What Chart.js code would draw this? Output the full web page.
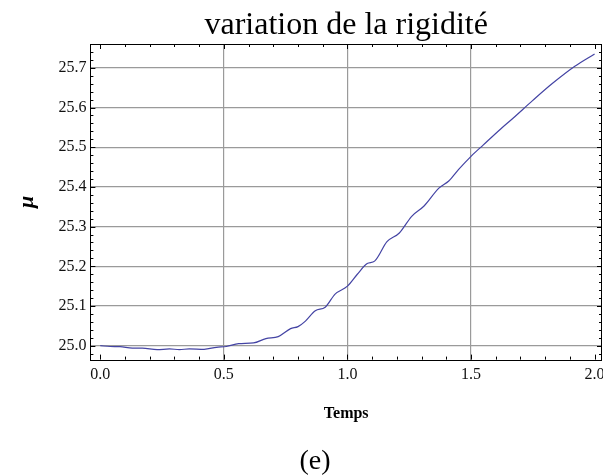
<!DOCTYPE html>
<html>
<head>
<meta charset="utf-8">
<script src="https://cdn.jsdelivr.net/npm/chart.js@4.4.1/dist/chart.umd.min.js"></script>
<style>
  body { margin: 0; background: #fff; }
  #marcoGrafico { width: 603px; height: 475px; overflow: hidden; }
</style>
</head>
<body>
<div id="marcoGrafico">
  <canvas id="grafico" width="615" height="475"></canvas>
</div>
<script>
// valores (temps, mu)
const tiempos = [0.00, 0.04, 0.08, 0.13, 0.17, 0.23, 0.28, 0.32, 0.36, 0.42, 0.47, 0.51, 0.56, 0.62, 0.67, 0.72, 0.77, 0.80, 0.83, 0.87, 0.91, 0.95, 1.00, 1.04, 1.08, 1.11, 1.16, 1.21, 1.26, 1.31, 1.37, 1.41, 1.45, 1.50, 1.55, 1.62, 1.67, 1.75, 1.83, 1.92, 2.00]
const valoresMu = [25.000, 24.998, 24.9975, 24.994, 24.994, 24.990, 24.992, 24.990, 24.992, 24.991, 24.996, 24.998, 25.005, 25.007, 25.018, 25.023, 25.043, 25.048, 25.062, 25.088, 25.097, 25.130, 25.150, 25.180, 25.207, 25.213, 25.262, 25.284, 25.326, 25.352, 25.397, 25.415, 25.444, 25.477, 25.506, 25.546, 25.573, 25.618, 25.661, 25.704, 25.735]
const etiquetasX = [0, 0.5, 1, 1.5, 2]
const etiquetasY = [25.0, 25.1, 25.2, 25.3, 25.4, 25.5, 25.6, 25.7]
const titulo = 'variation de la rigidité'
const sousTitre = '(e)'

const fuente = 'Liberation Serif, Times New Roman, serif'

const puntos = tiempos.map((t, i) => ({x: t, y: valoresMu[i]}))

// marco negro con marcas hacia adentro en los cuatro lados + textos
const marco = {
  id: 'marco',
  afterDraw(chart) {
    const {ctx, chartArea} = chart
    const {left, right, top, bottom} = chartArea
    const x = chart.scales.x
    const y = chart.scales.y
    ctx.save()
    ctx.strokeStyle = '#000'
    ctx.lineWidth = 1
    ctx.strokeRect(Math.round(left) + 0.5, Math.round(top) + 0.5, Math.round(right - left) - 1, Math.round(bottom - top))
    ctx.beginPath()
    for (let k = 0; k <= 20; k++) {
      const px = Math.round(x.getPixelForValue(k / 10)) + 0.5
      const largo = k % 5 == 0 ? 5 : 3
      ctx.moveTo(px, bottom); ctx.lineTo(px, bottom - largo)
      ctx.moveTo(px, top); ctx.lineTo(px, top + largo)
    }
    for (let k = -1; k <= 38; k++) {
      const valor = 25 + k * 0.02
      if (valor < y.min || valor > y.max) continue
      const py = Math.round(y.getPixelForValue(valor)) + 0.5
      const largo = k % 5 == 0 ? 5 : 3
      ctx.moveTo(left, py); ctx.lineTo(left + largo, py)
      ctx.moveTo(right, py); ctx.lineTo(right - largo, py)
    }
    ctx.stroke()

    ctx.fillStyle = '#000'
    ctx.textAlign = 'center'
    ctx.textBaseline = 'alphabetic'
    ctx.font = '32px ' + fuente
    ctx.fillText(titulo, (left + right) / 2, 34)
    ctx.font = '28px ' + fuente
    ctx.fillText(sousTitre, 315, 469)
    ctx.restore()
  }
}

const contexto = document.getElementById('grafico').getContext('2d')
const grafico = new Chart(contexto, {
  type: 'line',
  data: {
    datasets: [{
      label: 'mu',
      data: puntos,
      borderColor: '#4444a4',
      borderWidth: 1.2,
      pointRadius: 0,
      cubicInterpolationMode: 'monotone',
      fill: false
    }]
  },
  plugins: [marco],
  options: {
    responsive: false,
    animation: false,
    layout: {
      padding: {top: 44, right: 13, bottom: 52, left: 0}
    },
    plugins: {
      legend: {display: false},
      tooltip: {enabled: false}
    },
    scales: {
      x: {
        type: 'linear',
        min: -0.04,
        max: 2.03,
        afterBuildTicks: (scale) => { scale.ticks = etiquetasX.map(v => ({value: v})) },
        ticks: {
          padding: 6,
          color: '#111',
          font: {family: fuente, size: 16},
          callback: (v) => v.toFixed(1)
        },
        grid: {
          drawTicks: false,
          lineWidth: 1.2,
          color: (c) => (c.tick && (c.tick.value == 0 || c.tick.value == 2)) ? 'rgba(0,0,0,0)' : '#9a9a9a'
        },
        border: {display: false},
        title: {
          display: true,
          text: 'Temps',
          color: '#000',
          font: {family: fuente, size: 16, weight: 'bold'},
          padding: {top: 13, bottom: 0}
        }
      },
      y: {
        min: 24.965,
        max: 25.76,
        afterBuildTicks: (scale) => { scale.ticks = etiquetasY.map(v => ({value: v})) },
        ticks: {
          padding: 4,
          color: '#111',
          font: {family: fuente, size: 16},
          callback: (v) => v.toFixed(1)
        },
        grid: {
          drawTicks: false,
          lineWidth: 1.2,
          color: '#9a9a9a'
        },
        border: {display: false},
        title: {
          display: true,
          text: 'μ',
          color: '#000',
          font: {family: fuente, size: 22, weight: 'bold', style: 'italic'},
          padding: {top: 14, bottom: 14}
        }
      }
    }
  }
})
</script>
</body>
</html>
